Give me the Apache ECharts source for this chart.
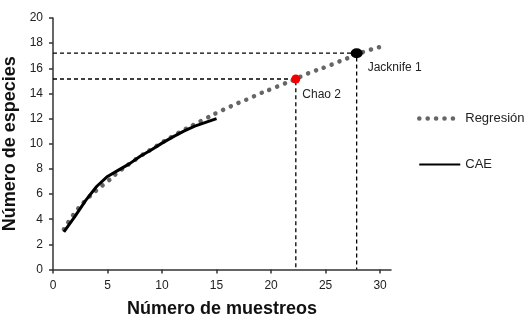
<!DOCTYPE html>
<html>
<head>
<meta charset="utf-8">
<script src="https://cdn.jsdelivr.net/npm/echarts@6/dist/echarts.min.js"></script>
<style>
  html, body { margin: 0; padding: 0; background: #fff; }
  #chart { width: 529px; height: 321px; }
</style>
</head>
<body>
<div id="chart"></div>
<script>
  // datos
  var muestreos = [1, 2, 3, 4, 5, 6, 7, 8, 9, 10, 11, 12, 13, 14, 15, 16, 17, 18, 19, 20, 21, 22, 23, 24, 25, 26, 27, 28, 29, 30]
  var regresion = [3.2, 4.5, 5.5, 6.3, 7.0, 7.75, 8.4, 9.0, 9.55, 10.1, 10.6, 11.1, 11.55, 12.0, 12.45, 12.85, 13.25, 13.6, 14.0, 14.35, 14.7, 15.05, 15.45, 15.8, 16.1, 16.45, 16.8, 17.15, 17.45, 17.7]
  var caeX = [1, 2, 3, 4, 5, 6, 7, 8, 9, 10, 11, 12, 13, 14, 15]
  var cae = [3.0, 4.2, 5.5, 6.6, 7.4, 7.9, 8.4, 9.0, 9.5, 10.05, 10.55, 11.0, 11.4, 11.7, 12.0]
  var chao2 = [22.27, 15.15]
  var jack1 = [27.85, 17.2]
  var xTicks = [0, 5, 10, 15, 20, 25, 30]
  var yTicks = [0, 2, 4, 6, 8, 10, 12, 14, 16, 18, 20]

  var font = 'Liberation Sans, Arial, sans-serif'

  function pares (xs, ys) {
    return xs.map(function (x, i) { return [x, ys[i]] })
  }
  function guia (p) {
    return [[0, p[1]], [p[0], p[1]], [p[0], 0]]
  }

  var myChart = echarts.init(document.getElementById('chart'))
  myChart.setOption({
    animation: false,
    grid: { left: 53, right: 138, top: 18, bottom: 51.5, containLabel: false, outerBoundsMode: 'none' },
    legend: {
      orient: 'vertical',
      left: 412,
      top: 107,
      itemWidth: 41,
      itemHeight: 14,
      itemGap: 33,
      data: [
        { name: 'Regresión', lineStyle: { width: 4.5 } },
        { name: 'CAE' }
      ],
      itemStyle: { opacity: 0 },
      textStyle: { fontSize: 13, color: '#222', fontFamily: font }
    },
    xAxis: {
      type: 'value',
      min: 0,
      max: 31,
      name: 'Número de muestreos',
      nameLocation: 'middle',
      nameGap: 31,
      nameTextStyle: { fontSize: 18, fontWeight: 'bold', color: '#111', fontFamily: font },
      splitLine: { show: false },
      axisLine: { lineStyle: { color: '#333', width: 1.5 } },
      axisTick: { length: 4, customValues: xTicks, lineStyle: { color: '#333', width: 1.5 } },
      axisLabel: { customValues: xTicks, margin: 10, fontSize: 12, color: '#222', fontFamily: font }
    },
    yAxis: {
      type: 'value',
      min: 0,
      max: 20,
      interval: 2,
      name: 'Número de especies',
      nameLocation: 'middle',
      nameGap: 33,
      nameTextStyle: { fontSize: 18, fontWeight: 'bold', color: '#111', fontFamily: font },
      splitLine: { show: false },
      axisLine: { show: true, lineStyle: { color: '#333', width: 1.5 } },
      axisTick: { show: true, length: 4, lineStyle: { color: '#333', width: 1.5 } },
      axisLabel: { customValues: yTicks, margin: 10, fontSize: 12, color: '#222', fontFamily: font }
    },
    series: [
      {
        name: 'guiaChao',
        type: 'line',
        data: guia(chao2),
        symbol: 'none',
        silent: true,
        lineStyle: { color: '#000', width: 1.3, type: [4, 3] },
        z: 1
      },
      {
        name: 'guiaJack',
        type: 'line',
        data: guia(jack1),
        symbol: 'none',
        silent: true,
        lineStyle: { color: '#000', width: 1.3, type: [4, 3] },
        z: 1
      },
      {
        name: 'Regresión',
        type: 'line',
        data: pares(muestreos, regresion),
        symbol: 'none',
        smooth: true,
        itemStyle: { color: '#666' },
        lineStyle: { color: '#666', width: 4.5, type: [0.1, 8.3], cap: 'round' },
        z: 2
      },
      {
        name: 'CAE',
        type: 'line',
        data: pares(caeX, cae),
        symbol: 'none',
        itemStyle: { color: '#000' },
        lineStyle: { color: '#000', width: 3 },
        z: 3
      },
      {
        name: 'Chao 2',
        type: 'scatter',
        data: [chao2],
        symbolSize: 9,
        itemStyle: { color: '#f00000', opacity: 1 },
        label: {
          show: true,
          formatter: 'Chao 2',
          position: 'right',
          distance: 0,
          offset: [2, 16],
          fontSize: 12,
          color: '#222',
          fontFamily: font
        },
        z: 4
      },
      {
        name: 'Jacknife 1',
        type: 'scatter',
        data: [jack1],
        symbolSize: [12, 10],
        itemStyle: { color: '#000', opacity: 1 },
        label: {
          show: true,
          formatter: 'Jacknife 1',
          position: 'right',
          distance: 0,
          offset: [5, 14],
          fontSize: 12,
          color: '#222',
          fontFamily: font
        },
        z: 4
      }
    ]
  })
</script>
</body>
</html>
